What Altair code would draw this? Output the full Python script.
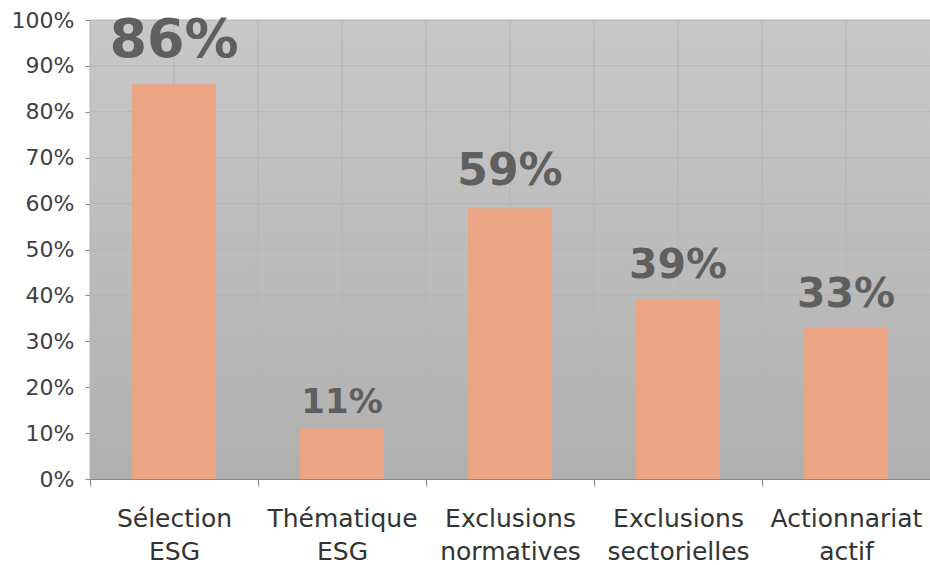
import altair as alt
import pandas as pd

categories = ["Sélection ESG", "Thématique ESG", "Exclusions normatives",
              "Exclusions sectorielles", "Actionnariat actif"]
values = [0.86, 0.11, 0.59, 0.39, 0.33]
y_ticks = [0.0, 0.1, 0.2, 0.3, 0.4, 0.5, 0.6, 0.7, 0.8, 0.9, 1.0]

df = pd.DataFrame({"cat": categories, "val": values})
grid_df = pd.DataFrame({"val": y_ticks[1:]})

# per-label style (font size, offset above bar)
label_style = {
    "Sélection ESG": (54, -27),
    "Thématique ESG": (34, -16),
    "Exclusions normatives": (44, -23),
    "Exclusions sectorielles": (41, -22),
    "Actionnariat actif": (41, -21),
}

W, H = 840, 459
FONT = "DejaVu Sans"
GRID = "#b4b4b4"

x_axis = alt.Axis(title=None, labelExpr="split(datum.label, ' ')",
                  labelAngle=0, labelFont=FONT, labelFontSize=25,
                  labelLineHeight=33, labelColor="#333333",
                  labelPadding=20, tickBand="extent", tickSize=7,
                  tickColor="#888888", domainColor="#888888",
                  grid=False)
y_axis = alt.Axis(title=None, values=y_ticks, format=".0%",
                  labelFont=FONT, labelFontSize=22,
                  labelColor="#404040", labelPadding=11,
                  tickSize=5, tickColor="#888888",
                  domainColor="#888888", grid=False)
x_scale = alt.Scale(domain=categories, paddingInner=0, paddingOuter=0)
y_scale = alt.Scale(domain=[0, 1])


def xe(bp=None):
    if bp is None:
        return alt.X("cat:N", sort=categories, scale=x_scale, axis=x_axis)
    return alt.X("cat:N", sort=categories, scale=x_scale, axis=x_axis, bandPosition=bp)


ye = alt.Y("val:Q", scale=y_scale, axis=y_axis)

bg = alt.Chart(df).mark_rect(
    color=alt.Gradient(gradient="linear", x1=0, y1=0, x2=0, y2=1,
                       stops=[alt.GradientStop(color="#c8c8c8", offset=0),
                              alt.GradientStop(color="#b0b0b0", offset=1)])
).encode(x=alt.value(0), x2=alt.value("width"), y=alt.value(0), y2=alt.value("height"))

hgrid = alt.Chart(grid_df).mark_rule(color=GRID, strokeWidth=1).encode(y=ye)

vgrid_edges = alt.Chart(df).mark_rule(color=GRID, strokeWidth=1).encode(x=xe(0))
vgrid_mid = alt.Chart(df).mark_rule(color=GRID, strokeWidth=1).encode(x=xe(0.5))

bars = alt.Chart(df).mark_bar(color="#eba584", width={"band": 0.5}).encode(
    x=xe(), y=ye)

text_layers = []
for cat in categories:
    fs, dy = label_style[cat]
    t = alt.Chart(df).transform_filter(alt.datum.cat == cat).mark_text(
        font=FONT, fontWeight="bold", fontSize=fs, color="#5f5f5f",
        baseline="alphabetic", align="center", dy=dy
    ).encode(x=xe(), y=ye, text=alt.Text("val:Q", format=".0%"))
    text_layers.append(t)

chart = alt.layer(bg, hgrid, vgrid_edges, vgrid_mid, bars, *text_layers).properties(
    width=W, height=H,
    autosize=alt.AutoSizeParams(type="none"),
    padding={"left": 90, "top": 20, "right": 0, "bottom": 86},
).configure_view(stroke=None).configure(background="white")

chart.save("out.html", embed_options={"renderer": "svg", "actions": False})
